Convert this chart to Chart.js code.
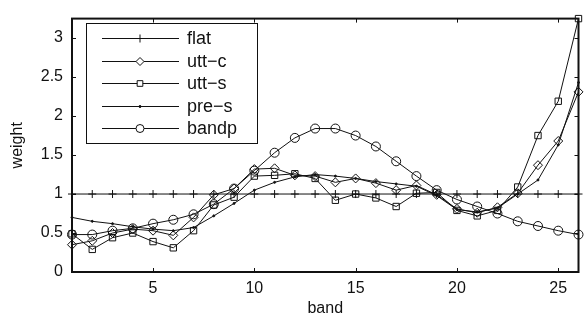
<!DOCTYPE html>
<html>
<head>
<meta charset="utf-8">
<script src="https://cdn.jsdelivr.net/npm/chart.js@4/dist/chart.umd.min.js"></script>
<style>
  html, body { margin: 0; padding: 0; background: #fff; }
  #wrap { width: 584px; height: 324px; position: relative; }
</style>
</head>
<body>
<div id="wrap"><canvas id="c"></canvas></div>
<script>
// bands 1..26
const bands = [1,2,3,4,5,6,7,8,9,10,11,12,13,14,15,16,17,18,19,20,21,22,23,24,25,26];

// weights
const flat  = [1,1,1,1,1,1,1,1,1,1,1,1,1,1,1,1,1,1,1,1,1,1,1,1,1,1];
const uttC  = [0.35,0.40,0.50,0.55,0.53,0.47,0.70,0.99,1.07,1.32,1.33,1.24,1.23,1.15,1.20,1.14,1.05,1.11,0.99,0.81,0.76,0.83,1.01,1.37,1.68,2.31];
const uttS  = [0.49,0.29,0.44,0.50,0.39,0.31,0.53,0.86,0.96,1.23,1.24,1.26,1.20,0.92,1.00,0.95,0.84,1.01,1.02,0.79,0.72,0.79,1.09,1.75,2.19,3.25];
const preS  = [0.70,0.65,0.62,0.58,0.55,0.53,0.57,0.72,0.88,1.05,1.15,1.22,1.25,1.23,1.20,1.16,1.13,1.10,0.98,0.80,0.77,0.82,1.00,1.18,1.63,2.43];
const bandp = [0.48,0.48,0.53,0.56,0.62,0.67,0.74,0.87,1.07,1.30,1.53,1.72,1.84,1.84,1.75,1.61,1.42,1.23,1.05,0.93,0.84,0.75,0.65,0.59,0.53,0.48];

const xTicks = [5,10,15,20,25];
const yTicks = [0,0.5,1,1.5,2,2.5,3];

const FONT = "'Liberation Sans', Arial, Helvetica, sans-serif";
const INK = "#111";

function series(label, values, style, radius, fill) {
  return {
    label: label,
    data: bands.map((b, i) => ({ x: b, y: values[i] })),
    borderColor: INK,
    borderWidth: 1,
    pointStyle: style,
    pointRadius: radius,
    pointBorderColor: INK,
    pointBorderWidth: 1,
    pointBackgroundColor: fill,
    tension: 0,
    clip: false
  };
}

const datasets = [
  series("flat", flat, "cross", 4, "transparent"),
  series("utt\u2212c", uttC, "rectRot", 4.5, "transparent"),
  series("utt\u2212s", uttS, "rect", 4.5, "transparent"),
  series("pre\u2212s", preS, "circle", 1, INK),
  series("bandp", bandp, "circle", 4.5, "transparent")
];

// frame, inward ticks and boxed legend
const framePlugin = {
  id: "frame",
  afterDraw(chart) {
    const ctx = chart.ctx;
    const a = chart.chartArea;
    const xs = chart.scales.x, ys = chart.scales.y;
    ctx.save();
    ctx.strokeStyle = INK;
    ctx.lineWidth = 1;
    const t = 4;
    ctx.beginPath();
    xTicks.forEach(v => {
      const px = Math.round(xs.getPixelForValue(v)) + 0.5;
      ctx.moveTo(px, a.bottom); ctx.lineTo(px, a.bottom - t);
      ctx.moveTo(px, a.top); ctx.lineTo(px, a.top + t);
    });
    yTicks.forEach(v => {
      const py = Math.round(ys.getPixelForValue(v)) + 0.5;
      ctx.moveTo(a.left, py); ctx.lineTo(a.left + t, py);
      ctx.moveTo(a.right, py); ctx.lineTo(a.right - t, py);
    });
    ctx.stroke();
    ctx.lineWidth = 2;
    ctx.strokeRect(a.left, a.top, a.right - a.left, a.bottom - a.top);

    // legend
    const lx = 86, ly = 23, lw = 171, lh = 120;
    ctx.fillStyle = "#fff";
    ctx.fillRect(lx, ly, lw, lh);
    ctx.lineWidth = 1;
    ctx.strokeRect(lx + 0.5, ly + 0.5, lw, lh);
    const rows = [38, 61, 83, 106, 128];
    ctx.font = "18px " + FONT;
    ctx.textBaseline = "middle";
    ctx.textAlign = "left";
    chart.data.datasets.forEach((ds, i) => {
      const y = rows[i] + 0.5;
      ctx.strokeStyle = INK;
      ctx.lineWidth = 1;
      ctx.beginPath();
      ctx.moveTo(102, y); ctx.lineTo(179, y);
      ctx.stroke();
      ctx.fillStyle = ds.pointBackgroundColor === "transparent" ? "#fff" : INK;
      Chart.helpers.drawPoint(ctx, {
        pointStyle: ds.pointStyle,
        radius: ds.pointRadius > 1 ? 4 : 1,
        rotation: 0,
        borderWidth: 1
      }, 140, y);
      if (ds.pointBackgroundColor !== "transparent") ctx.fill();
      ctx.fillStyle = INK;
      ctx.fillText(ds.label, 187, y + 1);
    });
    ctx.restore();
  }
};

new Chart(document.getElementById("c"), {
  type: "line",
  data: { datasets: datasets },
  plugins: [framePlugin],
  options: {
    responsive: true,
    maintainAspectRatio: false,
    animation: false,
    layout: { padding: { top: 9, right: 2, left: 0, bottom: 0 } },
    plugins: { legend: { display: false }, tooltip: { enabled: false } },
    scales: {
      x: {
        type: "linear",
        min: 1,
        max: 26,
        afterBuildTicks: s => { s.ticks = xTicks.map(v => ({ value: v })); },
        afterFit: s => { s.height = 52; },
        grid: { display: false, drawTicks: false },
        border: { display: false },
        ticks: { color: INK, font: { family: FONT, size: 16 }, padding: 7, maxRotation: 0, callback: v => String(v) },
        title: { display: true, text: "band", color: INK, font: { family: FONT, size: 16 }, padding: { top: 0, bottom: 6 } }
      },
      y: {
        type: "linear",
        min: 0,
        max: 3.25,
        afterBuildTicks: s => { s.ticks = yTicks.map(v => ({ value: v })); },
        afterFit: s => { s.width = 72; },
        grid: { display: false, drawTicks: false },
        border: { display: false },
        ticks: { color: INK, font: { family: FONT, size: 16 }, padding: 9, callback: v => String(v) },
        title: { display: true, text: "weight", color: INK, font: { family: FONT, size: 16 }, padding: { top: 8, bottom: 0 } }
      }
    }
  }
});
</script>
</body>
</html>
